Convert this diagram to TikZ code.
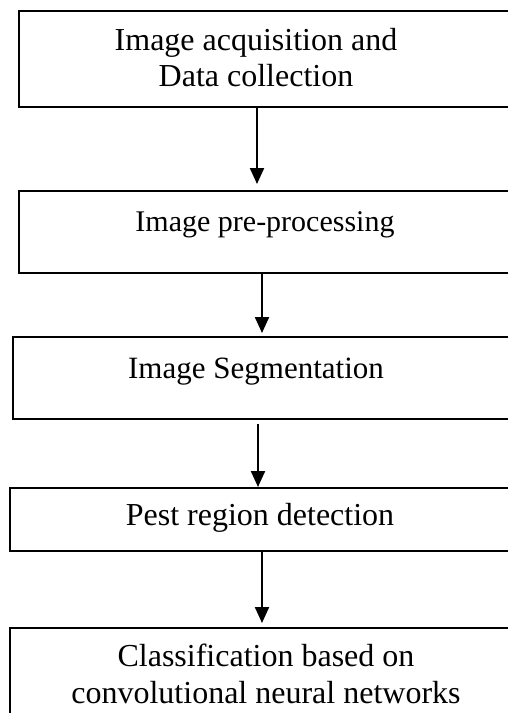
\documentclass[tikz,border=0pt]{standalone}
\usepackage{fontspec}
\setmainfont{Liberation Serif}
\usetikzlibrary{arrows.meta}
\begin{document}
\begin{tikzpicture}[x=1pt,y=-1pt,
  box/.style={draw, line width=2.2pt, rectangle, anchor=north west, inner sep=0pt, minimum width=620pt},
  txt/.style={align=center, inner sep=0pt, anchor=base},
  arr/.style={line width=2.2pt, -{Triangle[length=16pt,width=14pt]}}]
\useasboundingbox (0,0) rectangle (508,713);
\clip (0,0) rectangle (508,713);
% boxes
\node[box, minimum height=96pt] (b1) at (18,10) {};
\node[box, minimum height=82pt] (b2) at (18,190) {};
\node[box, minimum height=82pt] (b3) at (12,336) {};
\node[box, minimum height=63pt] (b4) at (9,487) {};
\node[box, minimum height=200pt] (b5) at (9,627) {};
% texts (base anchor = baseline of the last line)
\node[txt, font=\fontsize{32}{36}\selectfont] (t1) at (256,86) {Image acquisition and\\Data collection};
\node[txt, font=\fontsize{30}{34}\selectfont] (t2) at (265,231) {Image pre-processing};
\node[txt, font=\fontsize{31}{35}\selectfont] (t3) at (256,378) {Image Segmentation};
\node[txt, font=\fontsize{32}{36}\selectfont] (t4) at (260,525) {Pest region detection};
\node[txt, font=\fontsize{32}{37}\selectfont] (t5) at (266,703) {Classification based on\\convolutional neural networks};
% arrow columns
\coordinate (x1) at (257,0);
\coordinate (x2) at (262,0);
\coordinate (x3) at (258,0);
\coordinate (x4) at (262,0);
\draw[arr, shorten >=6pt] (b1.south -| x1) -- (b2.north -| x1);
\draw[arr, shorten >=3pt] (b2.south -| x2) -- (b3.north -| x2);
\draw[arr, shorten <=4pt] (b3.south -| x3) -- (b4.north -| x3);
\draw[arr, shorten >=4pt] (b4.south -| x4) -- (b5.north -| x4);
\end{tikzpicture}
\end{document}
